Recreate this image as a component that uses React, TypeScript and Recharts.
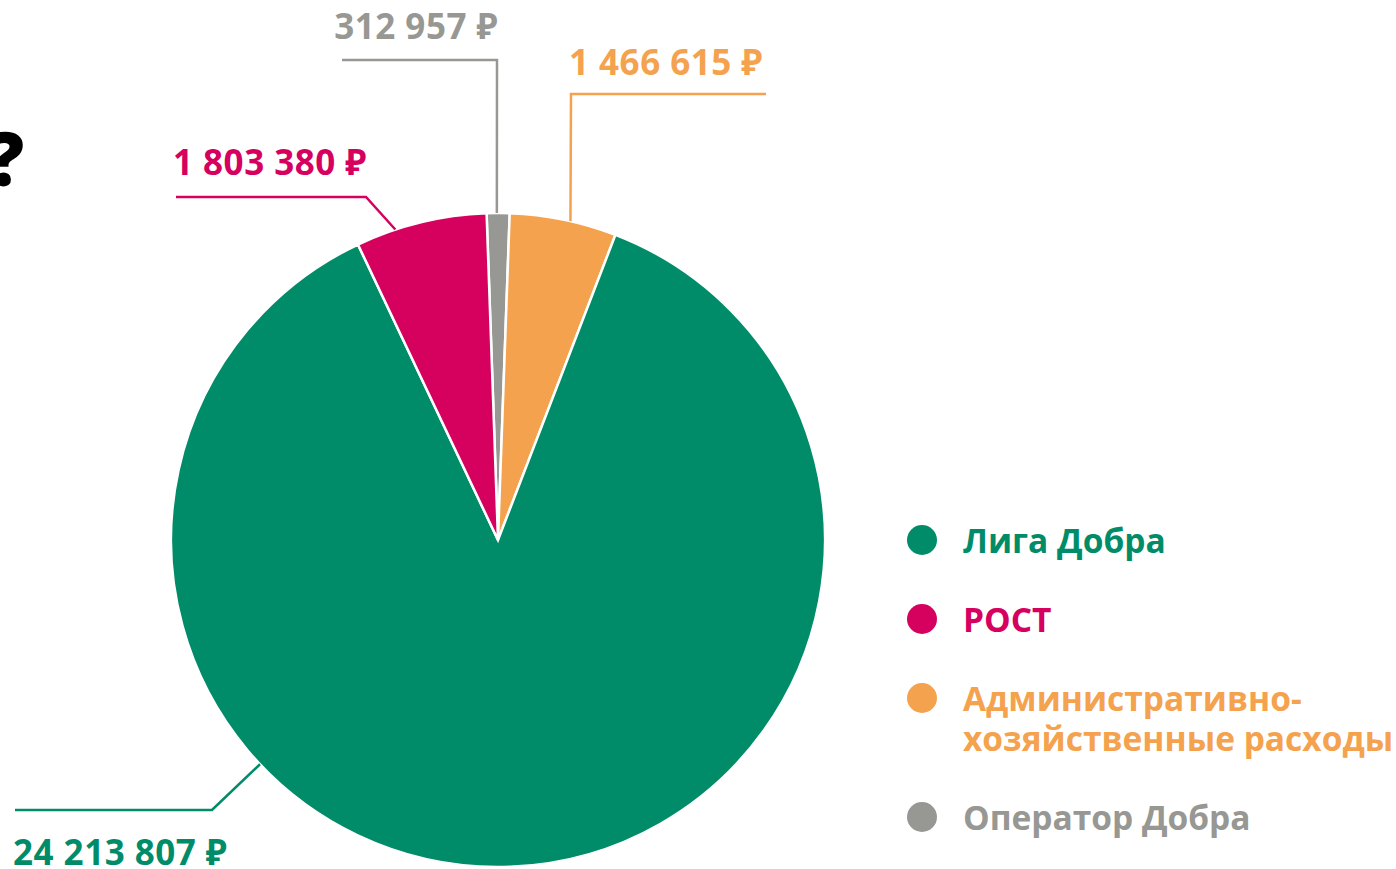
import React from 'react'
import { PieChart, Pie, Cell, Legend } from 'recharts'

// slices go clockwise from the top
const names = ['Оператор Добра', 'Административно-хозяйственные расходы', 'Лига Добра', 'РОСТ']
const values = [312957, 1466615, 24213807, 1803380]
const valueLabels = ['312 957 ₽', '1 466 615 ₽', '24 213 807 ₽', '1 803 380 ₽']
const colors = ['#979793', '#F4A24D', '#008C68', '#D6005F']
const legendOrder = [2, 3, 1, 0]
const legendLines = [['Оператор Добра'], ['Административно-', 'хозяйственные расходы'], ['Лига Добра'], ['РОСТ']]

const data = names.map((name, i) => ({ name, value: values[i] }))

const FONT = '"Open Sans", "Noto Sans", sans-serif'
const RAD = Math.PI / 180

// leader line layout per slice: angle where the line touches the arc, then the bends
const labelLayout = [
    { angle: 90.2, points: [[497, 60], [342, 60]], text: { x: 498, y: 39, anchor: 'end' } },
    { angle: 77.2, points: [[571, 94], [766, 94]], text: { x: 569, y: 75, anchor: 'start' } },
    { angle: 223.3, points: [[212, 810], [15, 810]], text: { x: 13, y: 865, anchor: 'start' } },
    { angle: 108.3, points: [[366, 197], [176, 197]], text: { x: 173, y: 175, anchor: 'start' } },
]

const renderLabel = (props: any) => {
    const { cx, cy, outerRadius, index } = props
    const l = labelLayout[index]
    const ax = cx + outerRadius * Math.cos(l.angle * RAD)
    const ay = cy - outerRadius * Math.sin(l.angle * RAD)
    const pts = [[ax, ay], ...l.points].map(p => p.join(',')).join(' ')
    return (
        <g key={`lbl-${index}`}>
            <polyline points={pts} fill="none" stroke={colors[index]} strokeWidth={2.5} />
            <text
                x={l.text.x}
                y={l.text.y}
                textAnchor={l.text.anchor as any}
                fill={colors[index]}
                fontFamily={FONT}
                fontWeight={700}
                fontSize={35}
                letterSpacing={0.5}
            >
                {valueLabels[index]}
            </text>
        </g>
    )
}

const renderLegend = () => (
    <div style={{ fontFamily: FONT, fontWeight: 700, fontSize: 33.5 }}>
        {legendOrder.map(i => (
            <div key={i} style={{ display: 'flex', alignItems: 'flex-start', marginBottom: 39 }}>
                <div style={{ width: 30, height: 30, borderRadius: 15, background: colors[i], marginTop: 5, marginRight: 26, flexShrink: 0 }} />
                <div style={{ color: colors[i], lineHeight: '40px', whiteSpace: 'nowrap' }}>
                    {legendLines[i].map((t, k) => (
                        <React.Fragment key={k}>
                            {k > 0 && <br />}
                            {t}
                        </React.Fragment>
                    ))}
                </div>
            </div>
        ))}
    </div>
)

const App = () => {
    return (
        <div style={{ position: 'absolute', left: 0, top: 0, width: 1396, height: 869, overflow: 'hidden', background: '#fff' }}>
            <PieChart width={1396} height={869} margin={{ top: 0, right: 0, bottom: 0, left: 0 }}>
                <text x={24} y={186} textAnchor="end" fontFamily={FONT} fontWeight={800} fontSize={74} fill="#000">?</text>
                <Pie
                    data={data}
                    dataKey="value"
                    nameKey="name"
                    cx={498}
                    cy={540}
                    outerRadius={327}
                    startAngle={92}
                    endAngle={-268}
                    stroke="#fff"
                    strokeWidth={2.5}
                    label={renderLabel}
                    labelLine={false}
                    isAnimationActive={false}
                >
                    {data.map((d, i) => <Cell key={d.name} fill={colors[i]} />)}
                </Pie>
                <Legend
                    content={renderLegend}
                    wrapperStyle={{ position: 'absolute', left: 907, top: 520, width: 489, bottom: 'auto' }}
                />
            </PieChart>
        </div>
    )
}

export default App
